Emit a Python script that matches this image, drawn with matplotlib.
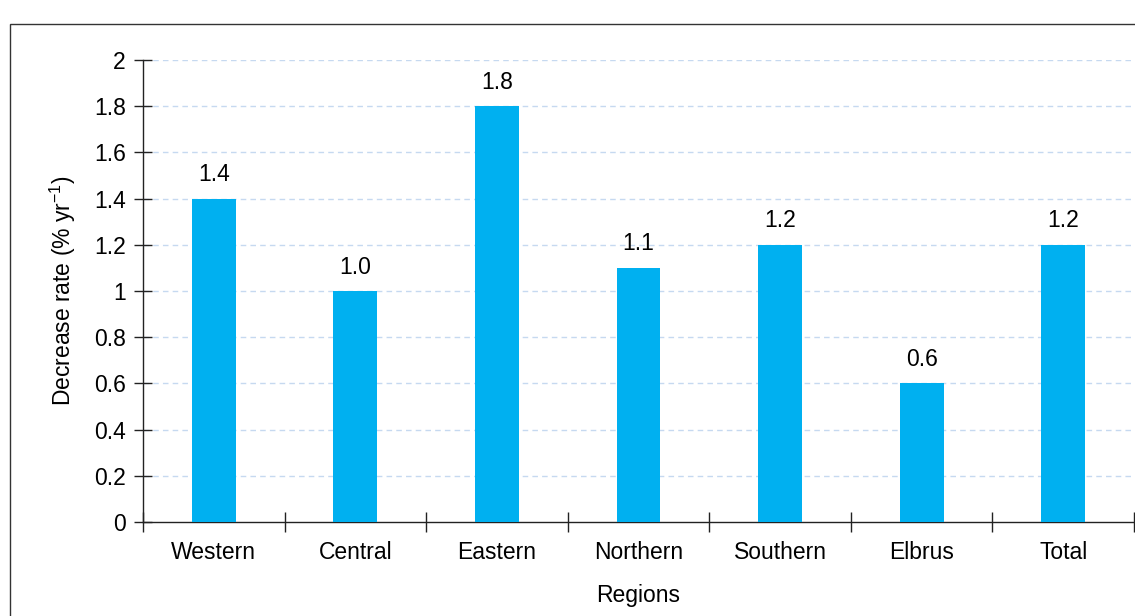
import matplotlib
matplotlib.use("Agg")
import matplotlib.pyplot as plt
from matplotlib.patches import Rectangle
from matplotlib.ticker import FixedLocator, FuncFormatter

plt.rcParams['font.family'] = ['Liberation Sans', 'DejaVu Sans']
plt.rcParams['mathtext.fontset'] = 'custom'
plt.rcParams['mathtext.rm'] = 'Liberation Sans'
plt.rcParams['mathtext.it'] = 'Liberation Sans'
plt.rcParams['mathtext.default'] = 'regular'

regions = ["Western", "Central", "Eastern", "Northern", "Southern", "Elbrus", "Total"]
rates = [1.4, 1.0, 1.8, 1.1, 1.2, 0.6, 1.2]
yticks = [0, 0.2, 0.4, 0.6, 0.8, 1.0, 1.2, 1.4, 1.6, 1.8, 2.0]

FS = 16.5
W, H = 1135, 616
fig = plt.figure(figsize=(W / 100, H / 100), dpi=100)
ax = fig.add_axes([143 / W, 1 - 522 / H, (1134 - 143) / W, (522 - 60) / H])

x = list(range(len(regions)))
ax.bar(x, rates, width=0.31, color="#00B0F0", zorder=3)
for xi, v in zip(x, rates):
    ax.annotate(f"{v:.1f}", (xi, v), xytext=(0, 9), textcoords="offset points",
                ha="center", va="bottom", fontsize=FS, color="black")

ax.set_xlim(-0.5, len(regions) - 0.5)
ax.set_ylim(0, 2)
ax.set_yticks(yticks)
ax.yaxis.set_major_formatter(FuncFormatter(lambda v, p: f"{v:g}"))
ax.set_xticks(x)
ax.set_xticklabels(regions, fontsize=FS)
ax.xaxis.set_minor_locator(FixedLocator([i - 0.5 for i in range(len(regions) + 1)]))
ax.tick_params(axis="x", which="major", length=0, pad=14)
ax.tick_params(axis="x", which="minor", direction="inout", length=15, width=1, color="#222222")
ax.tick_params(axis="y", direction="inout", length=13, width=1, color="#222222", labelsize=FS, pad=6)

for yv in yticks[1:]:
    ax.axhline(yv, color="#C6D9F0", linestyle=(0, (4, 3)), linewidth=1, zorder=1)

for s in ["top", "right"]:
    ax.spines[s].set_visible(False)
for s in ["left", "bottom"]:
    ax.spines[s].set_color("#222222")
    ax.spines[s].set_linewidth(1)

ax.set_xlabel("Regions", fontsize=FS, labelpad=14)
ax.set_ylabel("Decrease rate (% yr$^{-1}$)", fontsize=FS, labelpad=11)

fig.patches.append(Rectangle((10 / W, -0.1), 1.2, 1.1 - 24 / H, transform=fig.transFigure,
                             fill=False, edgecolor="#333333", linewidth=1))

fig.savefig("out.png", dpi=100)
